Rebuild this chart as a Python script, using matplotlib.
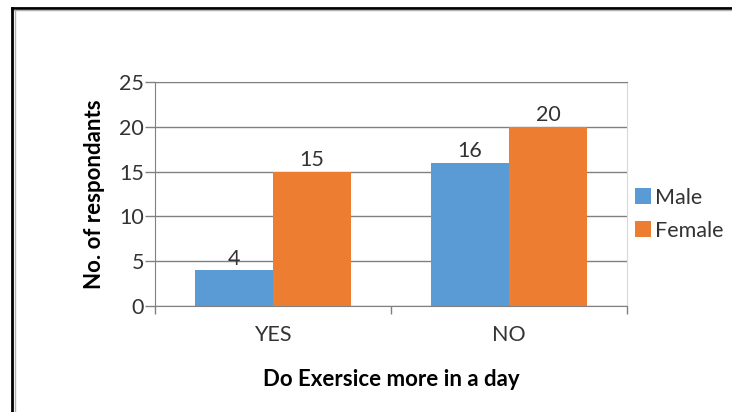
import matplotlib.pyplot as plt
from matplotlib.lines import Line2D
import numpy as np

# Données de l'enquête
categories = ["YES", "NO"]
male = [4, 16]
female = [15, 20]
yticks = [0, 5, 10, 15, 20, 25]

BLEU = "#5B9BD5"
ORANGE = "#ED7D31"
GRIS = "#808080"
TEXTE = "#333333"
TAILLE = 15.5

plt.rcParams["font.family"] = ["Lato", "DejaVu Sans"]

fig = plt.figure(figsize=(7.32, 4.12), dpi=100)
ax = fig.add_axes([0.2117, 0.2573, 0.6448, 0.5437])

x = np.arange(len(categories))
largeur = 0.33
b1 = ax.bar(x - largeur / 2, male, largeur, color=BLEU, label="Male", zorder=3)
b2 = ax.bar(x + largeur / 2, female, largeur, color=ORANGE, label="Female", zorder=3)

# Étiquettes de valeur au-dessus des barres
for barres, valeurs in ((b1, male), (b2, female)):
    for rect, v in zip(barres, valeurs):
        ax.text(rect.get_x() + rect.get_width() / 2, v + 0.15, str(v),
                ha="center", va="bottom", fontsize=TAILLE, color=TEXTE, zorder=4)

ax.set_xlim(-0.5, 1.5)
ax.set_ylim(0, 25)
ax.set_yticks(yticks)
ax.tick_params(axis="y", length=7, width=1, color=GRIS, labelsize=TAILLE,
               labelcolor=TEXTE, pad=1)
ax.yaxis.grid(True, color=GRIS, linewidth=1, zorder=0)

# Graduations de l'axe x entre les catégories, libellés au centre
ax.set_xticks([-0.5, 0.5, 1.5])
ax.set_xticklabels([])
ax.set_xticks(x, minor=True)
ax.set_xticklabels(categories, minor=True)
ax.tick_params(axis="x", which="major", length=6, width=1, color=GRIS)
ax.tick_params(axis="x", which="minor", length=0, labelsize=TAILLE,
               labelcolor=TEXTE, pad=14)

ax.spines["left"].set_color(GRIS)
ax.spines["bottom"].set_color(GRIS)
ax.spines["top"].set_color(GRIS)
ax.spines["right"].set_color("#d9d9d9")

ax.set_ylabel("No. of respondants", fontsize=16, fontweight="bold", labelpad=10,
              color="black")
ax.set_xlabel("Do Exersice more in a day", fontsize=16, fontweight="bold",
              labelpad=17, color="black")

ax.legend(loc="center left", bbox_to_anchor=(0.998, 0.41), frameon=False,
          fontsize=TAILLE, handlelength=0.75, handleheight=0.75, handletextpad=0.2,
          labelspacing=0.6, borderaxespad=0.0, labelcolor=TEXTE)

# Cadre autour de la figure (haut et gauche)
fig.add_artist(Line2D([12 / 732, 1], [1 - 8 / 412, 1 - 8 / 412], color="black", lw=2))
fig.add_artist(Line2D([14 / 732, 1], [1 - 10 / 412, 1 - 10 / 412], color="#b0b0b0", lw=1))
fig.add_artist(Line2D([12 / 732, 12 / 732], [0, 1 - 8 / 412], color="black", lw=2))
fig.add_artist(Line2D([15 / 732, 15 / 732], [0, 1 - 10 / 412], color="#b0b0b0", lw=1))

fig.savefig("out.png", dpi=100)
